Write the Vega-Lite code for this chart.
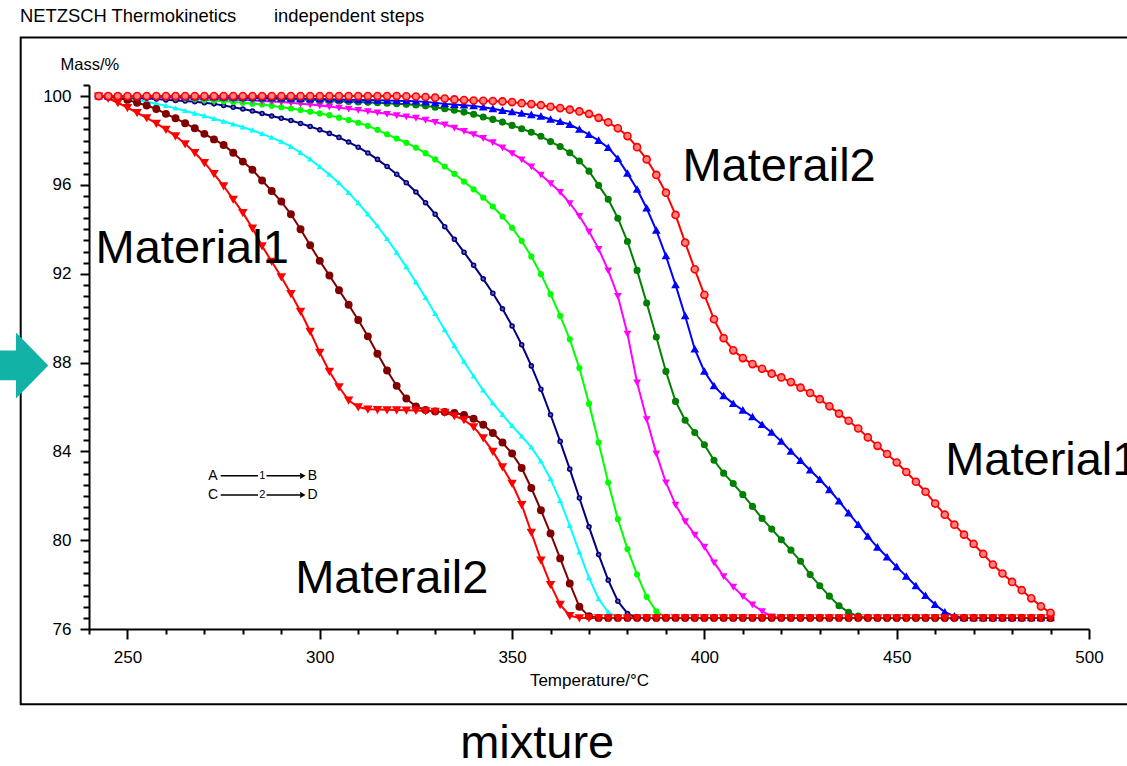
{
"$schema":"https://vega.github.io/schema/vega-lite/v6.json",
"width":1000,"height":544,
"autosize":"none",
"padding":{"left":89,"top":85,"right":38,"bottom":137},
"background":"white",
"config":{"view":{"stroke":null},"font":"Liberation Sans","text":{"font":"Liberation Sans","color":"black"}},
"datasets":{
"curves":[
{"t":242.5,"r1":100,"mr":100,"cy":100,"nv":100,"lg":100,"mg":100,"dg":100,"bl":100,"r2":100,"bk":100},
{"t":245,"r1":99.9,"mr":99.97,"cy":99.97,"nv":99.98,"lg":99.99,"mg":100,"dg":100,"bl":100,"r2":100},
{"t":247.5,"r1":99.7,"mr":99.9,"cy":99.93,"nv":99.96,"lg":99.98,"mg":99.99,"dg":100,"bl":100,"r2":100},
{"t":250,"r1":99.48,"mr":99.83,"cy":99.88,"nv":99.94,"lg":99.97,"mg":99.98,"dg":99.99,"bl":100,"r2":100},
{"t":252.5,"r1":99.25,"mr":99.7,"cy":99.82,"nv":99.92,"lg":99.97,"mg":99.97,"dg":99.99,"bl":99.99,"r2":100},
{"t":255,"r1":99.02,"mr":99.58,"cy":99.75,"nv":99.9,"lg":99.96,"mg":99.96,"dg":99.98,"bl":99.99,"r2":100},
{"t":257.5,"r1":98.77,"mr":99.42,"cy":99.66,"nv":99.87,"lg":99.96,"mg":99.95,"dg":99.98,"bl":99.99,"r2":100},
{"t":260,"r1":98.5,"mr":99.2,"cy":99.56,"nv":99.83,"lg":99.95,"mg":99.94,"dg":99.97,"bl":99.98,"r2":100},
{"t":262.5,"r1":98.2,"mr":99.0,"cy":99.45,"nv":99.8,"lg":99.93,"mg":99.93,"dg":99.97,"bl":99.98,"r2":100},
{"t":265,"r1":97.85,"mr":98.78,"cy":99.34,"nv":99.78,"lg":99.9,"mg":99.92,"dg":99.96,"bl":99.97,"r2":100},
{"t":267.5,"r1":97.45,"mr":98.55,"cy":99.22,"nv":99.75,"lg":99.87,"mg":99.91,"dg":99.95,"bl":99.97,"r2":100},
{"t":270,"r1":97.0,"mr":98.3,"cy":99.1,"nv":99.7,"lg":99.83,"mg":99.9,"dg":99.95,"bl":99.96,"r2":100},
{"t":272.5,"r1":96.5,"mr":98.05,"cy":98.98,"nv":99.65,"lg":99.8,"mg":99.88,"dg":99.94,"bl":99.96,"r2":100},
{"t":275,"r1":95.95,"mr":97.8,"cy":98.86,"nv":99.58,"lg":99.77,"mg":99.87,"dg":99.93,"bl":99.95,"r2":100},
{"t":277.5,"r1":95.35,"mr":97.45,"cy":98.73,"nv":99.5,"lg":99.74,"mg":99.85,"dg":99.92,"bl":99.95,"r2":100},
{"t":280,"r1":94.75,"mr":97.05,"cy":98.6,"nv":99.42,"lg":99.7,"mg":99.83,"dg":99.91,"bl":99.94,"r2":100},
{"t":282.5,"r1":94.05,"mr":96.68,"cy":98.46,"nv":99.33,"lg":99.66,"mg":99.81,"dg":99.9,"bl":99.93,"r2":100},
{"t":285,"r1":93.25,"mr":96.2,"cy":98.3,"nv":99.22,"lg":99.62,"mg":99.78,"dg":99.89,"bl":99.92,"r2":100},
{"t":287.5,"r1":92.55,"mr":95.73,"cy":98.13,"nv":99.1,"lg":99.57,"mg":99.76,"dg":99.88,"bl":99.92,"r2":100},
{"t":290,"r1":91.85,"mr":95.25,"cy":97.95,"nv":99.0,"lg":99.5,"mg":99.73,"dg":99.87,"bl":99.91,"r2":100},
{"t":292.5,"r1":91.1,"mr":94.68,"cy":97.72,"nv":98.9,"lg":99.44,"mg":99.7,"dg":99.86,"bl":99.9,"r2":100},
{"t":295,"r1":90.3,"mr":94.0,"cy":97.45,"nv":98.77,"lg":99.37,"mg":99.66,"dg":99.85,"bl":99.89,"r2":100},
{"t":297.5,"r1":89.4,"mr":93.28,"cy":97.15,"nv":98.63,"lg":99.3,"mg":99.62,"dg":99.84,"bl":99.88,"r2":100},
{"t":300,"r1":88.45,"mr":92.58,"cy":96.82,"nv":98.48,"lg":99.22,"mg":99.58,"dg":99.82,"bl":99.87,"r2":100},
{"t":302.5,"r1":87.6,"mr":91.92,"cy":96.47,"nv":98.32,"lg":99.14,"mg":99.53,"dg":99.8,"bl":99.86,"r2":100},
{"t":305,"r1":86.9,"mr":91.26,"cy":96.08,"nv":98.14,"lg":99.03,"mg":99.48,"dg":99.78,"bl":99.85,"r2":100},
{"t":307.5,"r1":86.3,"mr":90.6,"cy":95.65,"nv":97.93,"lg":98.92,"mg":99.43,"dg":99.76,"bl":99.84,"r2":100},
{"t":310,"r1":86.0,"mr":89.92,"cy":95.18,"nv":97.7,"lg":98.8,"mg":99.38,"dg":99.74,"bl":99.83,"r2":100},
{"t":312.5,"r1":85.9,"mr":89.18,"cy":94.68,"nv":97.44,"lg":98.66,"mg":99.32,"dg":99.72,"bl":99.82,"r2":100},
{"t":315,"r1":85.88,"mr":88.4,"cy":94.15,"nv":97.15,"lg":98.48,"mg":99.26,"dg":99.7,"bl":99.81,"r2":100},
{"t":317.5,"r1":85.87,"mr":87.64,"cy":93.57,"nv":96.83,"lg":98.28,"mg":99.2,"dg":99.68,"bl":99.8,"r2":100},
{"t":320,"r1":85.86,"mr":86.95,"cy":92.95,"nv":96.48,"lg":98.09,"mg":99.14,"dg":99.66,"bl":99.79,"r2":100},
{"t":322.5,"r1":85.85,"mr":86.38,"cy":92.3,"nv":96.1,"lg":97.9,"mg":99.08,"dg":99.63,"bl":99.78,"r2":99.99},
{"t":325,"r1":85.84,"mr":86.02,"cy":91.62,"nv":95.68,"lg":97.68,"mg":99.02,"dg":99.6,"bl":99.77,"r2":99.98},
{"t":327.5,"r1":85.82,"mr":85.86,"cy":90.92,"nv":95.2,"lg":97.43,"mg":98.93,"dg":99.56,"bl":99.74,"r2":99.96},
{"t":330,"r1":85.8,"mr":85.8,"cy":90.2,"nv":94.68,"lg":97.15,"mg":98.83,"dg":99.5,"bl":99.7,"r2":99.93},
{"t":332.5,"r1":85.75,"mr":85.77,"cy":89.47,"nv":94.12,"lg":96.83,"mg":98.72,"dg":99.43,"bl":99.65,"r2":99.89},
{"t":335,"r1":85.6,"mr":85.73,"cy":88.75,"nv":93.55,"lg":96.5,"mg":98.58,"dg":99.36,"bl":99.62,"r2":99.85},
{"t":337.5,"r1":85.42,"mr":85.64,"cy":88.05,"nv":92.97,"lg":96.15,"mg":98.43,"dg":99.28,"bl":99.59,"r2":99.82},
{"t":340,"r1":85.1,"mr":85.47,"cy":87.38,"nv":92.38,"lg":95.8,"mg":98.28,"dg":99.18,"bl":99.56,"r2":99.8},
{"t":342.5,"r1":84.6,"mr":85.2,"cy":86.75,"nv":91.77,"lg":95.43,"mg":98.11,"dg":99.06,"bl":99.5,"r2":99.79},
{"t":345,"r1":84.0,"mr":84.83,"cy":86.17,"nv":91.12,"lg":95.03,"mg":97.92,"dg":98.95,"bl":99.43,"r2":99.78},
{"t":347.5,"r1":83.3,"mr":84.4,"cy":85.65,"nv":90.42,"lg":94.58,"mg":97.69,"dg":98.83,"bl":99.35,"r2":99.76},
{"t":350,"r1":82.55,"mr":83.9,"cy":85.15,"nv":89.65,"lg":94.07,"mg":97.43,"dg":98.68,"bl":99.29,"r2":99.73},
{"t":352.5,"r1":81.6,"mr":83.25,"cy":84.68,"nv":88.8,"lg":93.48,"mg":97.15,"dg":98.53,"bl":99.22,"r2":99.68},
{"t":355,"r1":80.35,"mr":82.35,"cy":84.18,"nv":87.85,"lg":92.78,"mg":96.83,"dg":98.37,"bl":99.16,"r2":99.64},
{"t":357.5,"r1":79.1,"mr":81.35,"cy":83.55,"nv":86.8,"lg":91.98,"mg":96.46,"dg":98.19,"bl":99.09,"r2":99.59},
{"t":360,"r1":78.0,"mr":80.3,"cy":82.75,"nv":85.65,"lg":91.08,"mg":96.08,"dg":97.95,"bl":98.95,"r2":99.52},
{"t":362.5,"r1":77.1,"mr":79.18,"cy":81.78,"nv":84.45,"lg":90.1,"mg":95.68,"dg":97.73,"bl":98.85,"r2":99.46},
{"t":365,"r1":76.6,"mr":78.05,"cy":80.65,"nv":83.2,"lg":89.05,"mg":95.18,"dg":97.45,"bl":98.72,"r2":99.39},
{"t":367.5,"r1":76.5,"mr":77.0,"cy":79.45,"nv":81.9,"lg":87.75,"mg":94.6,"dg":97.08,"bl":98.5,"r2":99.31},
{"t":370,"r1":76.5,"mr":76.57,"cy":78.3,"nv":80.6,"lg":86.15,"mg":93.9,"dg":96.62,"bl":98.26,"r2":99.2},
{"t":372.5,"r1":76.5,"mr":76.5,"cy":77.35,"nv":79.35,"lg":84.4,"mg":93.12,"dg":95.98,"bl":98.0,"r2":99.02},
{"t":375,"r1":76.5,"mr":76.5,"cy":76.75,"nv":78.2,"lg":82.6,"mg":92.15,"dg":95.35,"bl":97.68,"r2":98.82},
{"t":377.5,"r1":76.5,"mr":76.5,"cy":76.5,"nv":77.25,"lg":80.95,"mg":91.0,"dg":94.5,"bl":97.18,"r2":98.55},
{"t":380,"r1":76.5,"mr":76.5,"cy":76.5,"nv":76.7,"lg":79.6,"mg":89.3,"dg":93.45,"bl":96.52,"r2":98.2,"bk":76.58},
{"t":382.5,"r1":76.5,"mr":76.5,"cy":76.5,"nv":76.5,"lg":78.45,"mg":87.1,"dg":92.15,"bl":95.8,"r2":97.7,"bk":76.58},
{"t":385,"r1":76.5,"mr":76.5,"cy":76.5,"nv":76.5,"lg":77.45,"mg":85.45,"dg":90.68,"bl":94.95,"r2":97.15,"bk":76.58},
{"t":387.5,"r1":76.5,"mr":76.5,"cy":76.5,"nv":76.5,"lg":76.8,"mg":83.9,"dg":89.15,"bl":93.95,"r2":96.45,"bk":76.58},
{"t":390,"r1":76.5,"mr":76.5,"cy":76.5,"nv":76.5,"lg":76.5,"mg":82.6,"dg":87.6,"bl":92.8,"r2":95.65,"bk":76.58},
{"t":392.5,"r1":76.5,"mr":76.5,"cy":76.5,"nv":76.5,"lg":76.5,"mg":81.6,"dg":86.25,"bl":91.5,"r2":94.65,"bk":76.58},
{"t":395,"r1":76.5,"mr":76.5,"cy":76.5,"nv":76.5,"lg":76.5,"mg":80.85,"dg":85.4,"bl":90.1,"r2":93.4,"bk":76.58},
{"t":397.5,"r1":76.5,"mr":76.5,"cy":76.5,"nv":76.5,"lg":76.5,"mg":80.25,"dg":84.85,"bl":88.6,"r2":92.2,"bk":76.58},
{"t":400,"r1":76.5,"mr":76.5,"cy":76.5,"nv":76.5,"lg":76.5,"mg":79.7,"dg":84.3,"bl":87.6,"r2":91.05,"bk":76.58},
{"t":402.5,"r1":76.5,"mr":76.5,"cy":76.5,"nv":76.5,"lg":76.5,"mg":79.0,"dg":83.6,"bl":86.95,"r2":89.95,"bk":76.58},
{"t":405,"r1":76.5,"mr":76.5,"cy":76.5,"nv":76.5,"lg":76.5,"mg":78.38,"dg":83.02,"bl":86.5,"r2":89.1,"bk":76.58},
{"t":407.5,"r1":76.5,"mr":76.5,"cy":76.5,"nv":76.5,"lg":76.5,"mg":77.9,"dg":82.55,"bl":86.15,"r2":88.55,"bk":76.58},
{"t":410,"r1":76.5,"mr":76.5,"cy":76.5,"nv":76.5,"lg":76.5,"mg":77.48,"dg":82.05,"bl":85.85,"r2":88.2,"bk":76.58},
{"t":412.5,"r1":76.5,"mr":76.5,"cy":76.5,"nv":76.5,"lg":76.5,"mg":77.1,"dg":81.52,"bl":85.55,"r2":87.93,"bk":76.58},
{"t":415,"r1":76.5,"mr":76.5,"cy":76.5,"nv":76.5,"lg":76.5,"mg":76.8,"dg":80.98,"bl":85.2,"r2":87.72,"bk":76.58},
{"t":417.5,"r1":76.5,"mr":76.5,"cy":76.5,"nv":76.5,"lg":76.5,"mg":76.56,"dg":80.5,"bl":84.85,"r2":87.5,"bk":76.58},
{"t":420,"r1":76.5,"mr":76.5,"cy":76.5,"nv":76.5,"lg":76.5,"mg":76.5,"dg":80.02,"bl":84.45,"r2":87.33,"bk":76.58},
{"t":422.5,"r1":76.5,"mr":76.5,"cy":76.5,"nv":76.5,"lg":76.5,"mg":76.5,"dg":79.55,"bl":84.0,"r2":87.12,"bk":76.58},
{"t":425,"r1":76.5,"mr":76.5,"cy":76.5,"nv":76.5,"lg":76.5,"mg":76.5,"dg":79.05,"bl":83.58,"r2":86.87,"bk":76.58},
{"t":427.5,"r1":76.5,"mr":76.5,"cy":76.5,"nv":76.5,"lg":76.5,"mg":76.5,"dg":78.45,"bl":83.15,"r2":86.63,"bk":76.58},
{"t":430,"r1":76.5,"mr":76.5,"cy":76.5,"nv":76.5,"lg":76.5,"mg":76.5,"dg":77.95,"bl":82.73,"r2":86.35,"bk":76.58},
{"t":432.5,"r1":76.5,"mr":76.5,"cy":76.5,"nv":76.5,"lg":76.5,"mg":76.5,"dg":77.48,"bl":82.27,"r2":86.03,"bk":76.58},
{"t":435,"r1":76.5,"mr":76.5,"cy":76.5,"nv":76.5,"lg":76.5,"mg":76.5,"dg":77.05,"bl":81.76,"r2":85.7,"bk":76.58},
{"t":437.5,"r1":76.5,"mr":76.5,"cy":76.5,"nv":76.5,"lg":76.5,"mg":76.5,"dg":76.75,"bl":81.22,"r2":85.38,"bk":76.58},
{"t":440,"r1":76.5,"mr":76.5,"cy":76.5,"nv":76.5,"lg":76.5,"mg":76.5,"dg":76.58,"bl":80.7,"r2":85.03,"bk":76.58},
{"t":442.5,"r1":76.5,"mr":76.5,"cy":76.5,"nv":76.5,"lg":76.5,"mg":76.5,"dg":76.5,"bl":80.17,"r2":84.63,"bk":76.58},
{"t":445,"r1":76.5,"mr":76.5,"cy":76.5,"nv":76.5,"lg":76.5,"mg":76.5,"dg":76.5,"bl":79.68,"r2":84.25,"bk":76.58},
{"t":447.5,"r1":76.5,"mr":76.5,"cy":76.5,"nv":76.5,"lg":76.5,"mg":76.5,"dg":76.5,"bl":79.24,"r2":83.88,"bk":76.58},
{"t":450,"r1":76.5,"mr":76.5,"cy":76.5,"nv":76.5,"lg":76.5,"mg":76.5,"dg":76.5,"bl":78.8,"r2":83.5,"bk":76.58},
{"t":452.5,"r1":76.5,"mr":76.5,"cy":76.5,"nv":76.5,"lg":76.5,"mg":76.5,"dg":76.5,"bl":78.37,"r2":83.07,"bk":76.58},
{"t":455,"r1":76.5,"mr":76.5,"cy":76.5,"nv":76.5,"lg":76.5,"mg":76.5,"dg":76.5,"bl":77.94,"r2":82.63,"bk":76.58},
{"t":457.5,"r1":76.5,"mr":76.5,"cy":76.5,"nv":76.5,"lg":76.5,"mg":76.5,"dg":76.5,"bl":77.5,"r2":82.18,"bk":76.58},
{"t":460,"r1":76.5,"mr":76.5,"cy":76.5,"nv":76.5,"lg":76.5,"mg":76.5,"dg":76.5,"bl":77.1,"r2":81.65,"bk":76.58},
{"t":462.5,"r1":76.5,"mr":76.5,"cy":76.5,"nv":76.5,"lg":76.5,"mg":76.5,"dg":76.5,"bl":76.76,"r2":81.15,"bk":76.58},
{"t":465,"r1":76.5,"mr":76.5,"cy":76.5,"nv":76.5,"lg":76.5,"mg":76.5,"dg":76.5,"bl":76.58,"r2":80.7,"bk":76.58},
{"t":467.5,"r1":76.5,"mr":76.5,"cy":76.5,"nv":76.5,"lg":76.5,"mg":76.5,"dg":76.5,"bl":76.5,"r2":80.25,"bk":76.58},
{"t":470,"r1":76.5,"mr":76.5,"cy":76.5,"nv":76.5,"lg":76.5,"mg":76.5,"dg":76.5,"bl":76.5,"r2":79.83,"bk":76.58},
{"t":472.5,"r1":76.5,"mr":76.5,"cy":76.5,"nv":76.5,"lg":76.5,"mg":76.5,"dg":76.5,"bl":76.5,"r2":79.38,"bk":76.58},
{"t":475,"r1":76.5,"mr":76.5,"cy":76.5,"nv":76.5,"lg":76.5,"mg":76.5,"dg":76.5,"bl":76.5,"r2":78.9,"bk":76.58},
{"t":477.5,"r1":76.5,"mr":76.5,"cy":76.5,"nv":76.5,"lg":76.5,"mg":76.5,"dg":76.5,"bl":76.5,"r2":78.5,"bk":76.58},
{"t":480,"r1":76.5,"mr":76.5,"cy":76.5,"nv":76.5,"lg":76.5,"mg":76.5,"dg":76.5,"bl":76.5,"r2":78.12,"bk":76.58},
{"t":482.5,"r1":76.5,"mr":76.5,"cy":76.5,"nv":76.5,"lg":76.5,"mg":76.5,"dg":76.5,"bl":76.5,"r2":77.75,"bk":76.58},
{"t":485,"r1":76.5,"mr":76.5,"cy":76.5,"nv":76.5,"lg":76.5,"mg":76.5,"dg":76.5,"bl":76.5,"r2":77.38,"bk":76.58},
{"t":487.5,"r1":76.5,"mr":76.5,"cy":76.5,"nv":76.5,"lg":76.5,"mg":76.5,"dg":76.5,"bl":76.5,"r2":77.02,"bk":76.58},
{"t":490,"r1":76.5,"mr":76.5,"cy":76.5,"nv":76.5,"lg":76.5,"mg":76.5,"dg":76.5,"bl":76.5,"r2":76.73,"bk":76.58}
],
"bigNotes":[
{"t":241.7,"m":92.48,"label":"Material1"},
{"t":394.3,"m":96.19,"label":"Materail2"},
{"t":462.6,"m":82.94,"label":"Material1"},
{"t":293.6,"m":77.62,"label":"Materail2"},
{"t":336.5,"m":70.2,"label":"mixture"}
],
"header":[
{"t":222.06,"m":103.34,"label":"NETZSCH Thermokinetics"},
{"t":288.1,"m":103.34,"label":"independent steps"}
],
"legendLetters":[
{"t":272.24,"m":82.9,"label":"A"},
{"t":298.11,"m":82.9,"label":"B"},
{"t":272.24,"m":82.04,"label":"C"},
{"t":298.11,"m":82.04,"label":"D"}
],
"legendNums":[
{"t":285.05,"m":82.9,"label":"1"},
{"t":285.05,"m":82.04,"label":"2"}
],
"legendLines":[
{"t":274.24,"t2":283.94,"m":82.9},
{"t":286.15,"t2":294.86,"m":82.9},
{"t":274.24,"t2":283.94,"m":82.04},
{"t":286.15,"t2":294.86,"m":82.04}
],
"legendHeads":[
{"t":295.6,"m":82.9},
{"t":295.6,"m":82.04}
],
"frame":[{"t":222.24,"t2":540,"m":102.64,"m2":72.615}],
"arrow":[{"t":220.84,"m":87.87}]
},
"encoding":{
"x":{"field":"t","type":"quantitative","scale":{"domain":[240,500],"nice":false,"zero":false},
"axis":{"title":"Temperature/°C","values":[240,250,260,270,280,290,300,310,320,330,340,350,360,370,380,390,400,410,420,430,440,450,460,470,480,490,500],
"labelExpr":"datum.value % 50 === 0 ? datum.label : ''","grid":false,
"tickSize":{"condition":{"test":"datum.value % 50 === 0","value":10},"value":5},
"tickWidth":2,"tickColor":"black","domainColor":"black","domainWidth":2,
"labelFont":"Liberation Sans","labelFontSize":17,"labelColor":"black","labelBaseline":"alphabetic","labelPadding":23,"labelOverlap":false,"labelFlush":false,
"titleFont":"Liberation Sans","titleFontSize":17,"titleFontWeight":"normal","titleColor":"black","titleBaseline":"alphabetic","titleY":56}},
"y":{"field":"m","type":"quantitative","scale":{"domain":[76,100.5],"nice":false,"zero":false},
"axis":{"title":"Mass/%","values":[76,76.5,77,77.5,78,78.5,79,79.5,80,80.5,81,81.5,82,82.5,83,83.5,84,84.5,85,85.5,86,86.5,87,87.5,88,88.5,89,89.5,90,90.5,91,91.5,92,92.5,93,93.5,94,94.5,95,95.5,96,96.5,97,97.5,98,98.5,99,99.5,100,100.5],
"labelExpr":"datum.value % 4 === 0 ? format(datum.value, 'd') : ''","grid":false,
"tickSize":{"condition":{"test":"datum.value % 4 === 0","value":9},"value":6},
"tickWidth":2,"tickColor":"black","domainColor":"black","domainWidth":2,
"labelFont":"Liberation Sans","labelFontSize":17,"labelColor":"black","labelPadding":9,"labelOverlap":false,"labelFlush":false,
"titleFont":"Liberation Sans","titleFontSize":16.5,"titleFontWeight":"normal","titleColor":"black","titleAngle":0,"titleAlign":"left","titleBaseline":"alphabetic","titleX":-29,"titleY":-16}}
},
"layer":[
{"data":{"name":"frame"},"mark":{"type":"rect","fillOpacity":0,"stroke":"black","strokeWidth":2},
 "encoding":{"x2":{"field":"t2"},"y2":{"field":"m2"}}},
{"data":{"name":"arrow"},"mark":{"type":"point","shape":"M-1,-0.45L0.02,-0.45L0.02,-1L1,0L0.02,1L0.02,0.45L-1,0.45Z","size":4356,"filled":true,"fill":"#12B2A6","fillOpacity":1,"strokeWidth":0,"opacity":1}},
{"data":{"name":"curves"},
 "transform":[{"fold":["bk","cy","nv","lg","mg","dg","bl","mr","r1","r2"],"as":["s","m"]},{"filter":"isValid(datum.m) && datum.s !== 'bk'"}],
 "mark":{"type":"line","strokeWidth":2},
 "encoding":{"color":{"field":"s","type":"nominal","legend":null,
   "scale":{"domain":["cy","nv","lg","mg","dg","bl","mr","r1","r2"],"range":["#00FFFF","#000080","#00FF00","#FF00FF","#008000","#0000FF","#800000","#FF0000","#FF0000"]}}}},
{"data":{"name":"curves"},
 "transform":[{"fold":["bk","cy","nv","lg","mg","dg","bl","mr","r1","r2"],"as":["s","m"]},{"filter":"isValid(datum.m)"}],
 "mark":{"type":"point","filled":true,"strokeWidth":1.6,"opacity":1},
 "encoding":{
  "shape":{"field":"s","type":"nominal","legend":null,"scale":{"domain":["bk","cy","nv","lg","mg","dg","bl","mr","r1","r2"],"range":["square","triangle-up","circle","circle","triangle-down","circle","triangle-up","circle","triangle-down","circle"]}},
  "fill":{"field":"s","type":"nominal","legend":null,"scale":{"domain":["bk","cy","nv","lg","mg","dg","bl","mr","r1","r2"],"range":["#000000","#00FFFF","#7070B8","#00FF00","#FF00FF","#008000","#0000FF","#800000","#FF0000","#FF8080"]}},
  "stroke":{"field":"s","type":"nominal","legend":null,"scale":{"domain":["bk","cy","nv","lg","mg","dg","bl","mr","r1","r2"],"range":["#000000","#00FFFF","#000080","#00FF00","#FF00FF","#008000","#0000FF","#800000","#FF0000","#FF0000"]}},
  "size":{"field":"s","type":"nominal","legend":null,"scale":{"domain":["bk","cy","nv","lg","mg","dg","bl","mr","r1","r2"],"range":[6,50,38,44,50,44,50,44,50,42]}}
 }},
{"data":{"name":"bigNotes"},"mark":{"type":"text","align":"left","baseline":"alphabetic","fontSize":47,"font":"Liberation Sans","color":"black"},
 "encoding":{"text":{"field":"label"}}},
{"data":{"name":"header"},"mark":{"type":"text","align":"left","baseline":"alphabetic","fontSize":18.4,"font":"Liberation Sans","color":"black"},
 "encoding":{"text":{"field":"label"}}},
{"data":{"name":"legendLines"},"mark":{"type":"rule","color":"black","strokeWidth":1.5},
 "encoding":{"x2":{"field":"t2"}}},
{"data":{"name":"legendHeads"},"mark":{"type":"point","shape":"triangle-right","size":40,"filled":true,"color":"black","opacity":1}},
{"data":{"name":"legendLetters"},"mark":{"type":"text","align":"center","baseline":"middle","fontSize":14,"font":"Liberation Sans","color":"black"},
 "encoding":{"text":{"field":"label"}}},
{"data":{"name":"legendNums"},"mark":{"type":"text","align":"center","baseline":"middle","fontSize":11,"font":"Liberation Sans","color":"black"},
 "encoding":{"text":{"field":"label"}}}
]
}
